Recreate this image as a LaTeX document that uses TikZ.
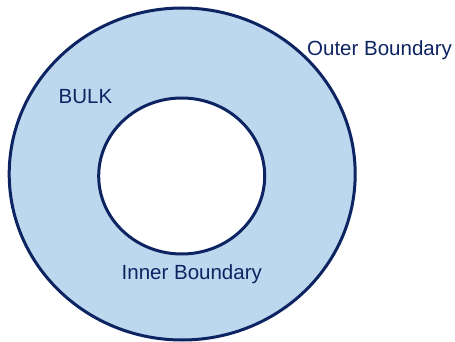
\documentclass[tikz,border=0pt]{standalone}
\usepackage{fontspec}
\setmainfont{Liberation Sans}
\usepackage{tikz}
\usetikzlibrary{shapes.geometric}
\definecolor{navy}{HTML}{0D2462}
\definecolor{bulkblue}{HTML}{BDD7EE}

\begin{document}
\begin{tikzpicture}[
  x=1pt, y=-1pt,
  ring/.style={ellipse, draw=navy, line width=3pt, inner sep=0pt},
  lbl/.style={font=\fontsize{20.5}{24}\selectfont, text=navy, anchor=base west, inner sep=0pt},
]
\useasboundingbox (0,0) rectangle (455,342);
\node[ring, fill=bulkblue, minimum width=346pt, minimum height=332pt] (outer) at (182.2, 174) {};
\node[ring, fill=white, minimum width=166pt, minimum height=156pt] (inner) at (181.7, 176) {};
\node[lbl] (outerlbl) at (307, 56) {Outer Boundary};
\node[lbl] (bulk) at (58.5, 104) {BULK};
\node[lbl] (innerlbl) at (121.5, 279) {Inner Boundary};
\end{tikzpicture}
\end{document}
